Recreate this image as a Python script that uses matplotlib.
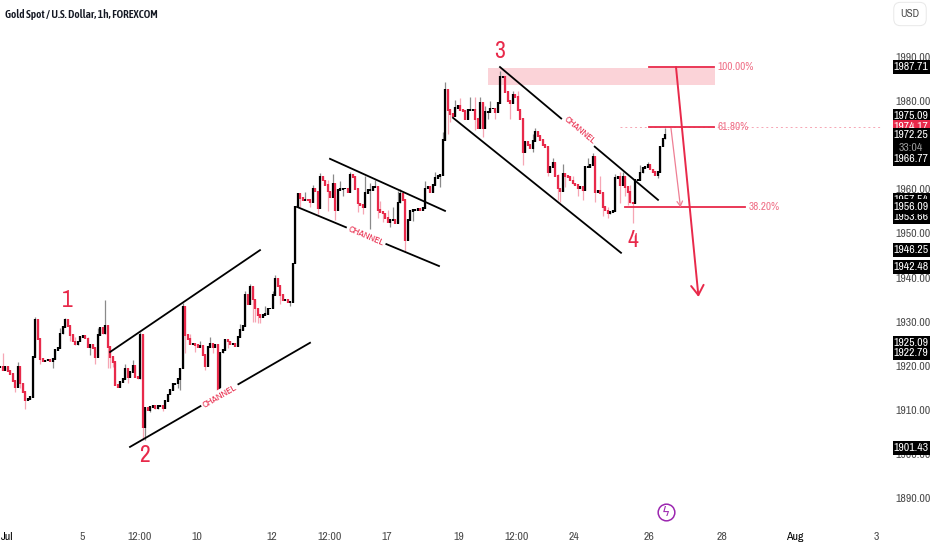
import matplotlib
matplotlib.use('Agg')
import matplotlib.pyplot as plt
import numpy as np

plt.rcParams['font.family'] = ['Archivo Narrow', 'Liberation Sans', 'DejaVu Sans']

RED = '#e8294a'
PINK = '#f6a6b4'

# hourly closes, one run per leg
closes_a = [1919.7, 1919.0, 1919.7, 1918.8, 1918.2, 1916.5, 1915.2, 1919.7, 1916.0, 1914.0,
            1912.2, 1912.5, 1912.9, 1922.0, 1930.3, 1926.0, 1921.6, 1921.0, 1921.2, 1921.3,
            1921.0, 1921.5, 1923.5, 1924.0, 1927.3, 1928.8, 1930.3, 1929.0, 1927.0, 1925.5,
            1924.8, 1925.5, 1926.5, 1926.8, 1926.2, 1924.3, 1924.8, 1924.0, 1922.0, 1927.0,
            1928.5, 1927.3, 1929.0, 1924.3, 1922.0, 1920.9, 1915.6, 1915.2, 1916.3, 1917.0,
            1919.4, 1917.5, 1918.5, 1920.0, 1917.5, 1917.1, 1927.0, 1906.1, 1910.5, 1910.0,
            1910.7, 1911.0, 1910.3, 1910.8, 1911.0, 1910.5, 1912.0, 1913.5, 1914.5, 1915.8,
            1916.0, 1917.0, 1919.4, 1933.4, 1927.0, 1926.0, 1925.0, 1925.0, 1924.7, 1924.3,
            1924.5, 1922.5, 1920.0, 1924.3, 1925.0, 1924.3, 1924.7, 1914.0, 1923.0, 1923.5,
            1925.8, 1925.5, 1925.0, 1925.0, 1924.5, 1926.5, 1928.1, 1929.0, 1936.0, 1934.0,
            1937.9, 1935.0, 1933.0, 1931.5, 1931.0, 1931.5, 1931.7, 1933.0, 1933.0, 1936.0,
            1939.8, 1938.0, 1936.0, 1934.9, 1935.0, 1934.5, 1934.5, 1943.2]
closes_b = [1956.0, 1959.0, 1958.0, 1957.5, 1957.7, 1957.5, 1957.2, 1960.2, 1959.5, 1955.7,
            1962.8, 1962.0, 1961.0, 1959.5, 1958.3, 1961.3, 1955.3, 1959.8, 1960.0, 1960.2,
            1960.2, 1959.4, 1963.2, 1962.8, 1960.0, 1956.8, 1956.4, 1956.0, 1959.2, 1959.8,
            1959.8, 1960.5, 1960.6, 1955.3, 1954.8, 1954.5, 1953.5, 1952.5, 1953.0, 1953.0,
            1952.3, 1957.0, 1959.0, 1957.5, 1948.5, 1953.0, 1955.0, 1955.3, 1955.3, 1955.5,
            1955.3, 1955.7, 1960.2, 1960.6, 1959.4, 1961.0, 1962.5, 1963.0, 1963.2, 1971.2,
            1982.5, 1978.0, 1977.0, 1976.5, 1978.5, 1979.0, 1978.0, 1977.8, 1976.0, 1978.0,
            1978.0, 1978.0, 1976.0, 1973.8, 1979.5, 1973.8, 1977.6, 1977.6, 1978.3, 1978.3,
            1977.6, 1979.5, 1985.5, 1985.5, 1982.0, 1980.0, 1979.5, 1981.4, 1981.0, 1978.0,
            1976.0, 1968.5, 1970.8, 1970.0, 1969.3, 1971.0, 1973.0, 1972.0, 1971.2, 1970.0,
            1969.6, 1964.0, 1965.0, 1965.9, 1963.0, 1960.2, 1959.5, 1963.6, 1963.0, 1962.8,
            1962.0, 1961.3, 1961.0, 1960.2, 1960.5, 1959.8, 1965.1, 1965.1, 1965.5, 1967.4,
            1959.4, 1959.6]
closes_c = [1959.1, 1956.0, 1955.2, 1954.5, 1954.8, 1955.0, 1962.5, 1962.7, 1961.0, 1962.9,
            1960.5, 1959.4, 1957.0, 1956.8, 1962.1, 1962.1, 1963.8, 1964.8, 1965.0, 1965.5,
            1964.5, 1964.0, 1963.2, 1964.0, 1969.7, 1971.5, 1972.3]

# bars with a wick worth drawing
high_bars = [1, 14, 26, 42, 73, 100, 110, 128, 133, 140, 146, 148, 160, 170, 178, 182, 192,
             194, 200, 205, 214, 225, 237, 246, 249, 256, 259, 266,
             7, 16, 24, 30, 35, 39, 50, 53, 56, 74, 76, 80, 84, 96, 98, 106, 109, 122, 125,
             131, 136, 143, 150, 152, 155, 157, 159, 174, 177, 184, 188, 190, 196, 203, 207,
             213, 221, 223, 229, 235, 240, 243, 248, 252]
high_vals = [1922.8, 1931.0, 1930.9, 1934.9, 1934.2, 1938.6, 1940.5, 1963.6, 1963.4, 1963.9,
             1962.9, 1961.5, 1960.0, 1961.8, 1984.4, 1980.2, 1980.9, 1978.9, 1986.7, 1982.2,
             1974.0, 1965.8, 1968.2, 1963.4, 1963.9, 1965.4, 1966.1, 1973.8,
             1920.8, 1923.0, 1928.5, 1926.6, 1926.5, 1928.5, 1920.3, 1921.2, 1927.6, 1929.0,
             1927.2, 1925.6, 1926.5, 1929.5, 1937.0, 1933.5, 1937.0, 1959.4, 1961.0, 1962.0,
             1961.8, 1958.0, 1962.0, 1957.4, 1955.4, 1956.0, 1959.5, 1964.0, 1973.0, 1980.6,
             1981.0, 1981.0, 1980.0, 1982.0, 1982.3, 1972.5, 1967.0, 1963.5, 1963.0, 1967.0,
             1963.0, 1956.0, 1964.0, 1961.0]
low_bars = [8, 10, 43, 45, 57, 58, 72, 87, 102, 104, 118, 127, 134, 143, 148, 153, 162, 165,
            180, 193, 209, 224, 238, 251, 253, 265,
            6, 16, 21, 28, 36, 38, 44, 51, 60, 65, 71, 74, 78, 82, 85, 91, 101, 103, 112, 116,
            120, 124, 131, 137, 145, 151, 156, 163, 176, 179, 190, 195, 198, 204, 213, 219,
            223, 226, 231, 233, 241, 243, 248, 250, 263]
low_vals = [1915.0, 1910.3, 1919.4, 1919.8, 1903.1, 1903.1, 1914.5, 1913.7, 1930.0, 1929.6,
            1952.4, 1954.4, 1953.0, 1954.9, 1951.1, 1952.6, 1945.8, 1952.9, 1975.2, 1971.9,
            1965.5, 1957.2, 1957.2, 1956.4, 1952.3, 1969.8,
            1914.0, 1920.5, 1919.5, 1925.5, 1922.5, 1920.3, 1919.5, 1916.0, 1909.5, 1909.8,
            1915.0, 1923.0, 1923.2, 1919.0, 1923.0, 1924.0, 1930.0, 1929.8, 1933.9, 1933.6,
            1956.0, 1956.0, 1955.0, 1958.5, 1954.5, 1953.5, 1951.5, 1949.0, 1960.5, 1972.5,
            1973.5, 1976.0, 1976.0, 1976.0, 1968.5, 1963.0, 1957.5, 1960.5, 1958.5, 1957.5,
            1954.0, 1953.6, 1957.0, 1958.5, 1962.5]

y_ticks = [1890, 1900, 1910, 1920, 1930, 1940, 1950, 1960, 1970, 1980, 1990]
x_tick_bars = [2.8, 32.8, 56, 78.8, 108.8, 132, 154.8, 183.6, 206.8, 229.6, 259.6, 288.8, 318, 350.4]
x_tick_labels = ['Jul', '5', '12:00', '10', '12', '12:00', '17', '19', '12:00', '24', '26', '28', 'Aug', '3']
bold_ticks = ['Jul', 'Aug']

# channels as (bar, price) end points
channels = [((52, 1901.6), (124, 1925.2)),
            ((44, 1923.1), (104, 1946.2)),
            ((132, 1966.9), (178, 1955.1)),
            ((118.8, 1956.0), (175.6, 1942.6)),
            ((200, 1987.7), (263.2, 1957.6)),
            ((181.2, 1976.2), (248.4, 1945.6))]
channel_labels = [(88, 1913.1, 30), (146.4, 1949.4, -23), (232, 1973.4, -40)]
wave_labels = [('1', 26.8, 1934.9), ('2', 57.6, 1899.7), ('3', 200, 1991.2), ('4', 253.2, 1948.5)]
fib_levels = [('100.00%', 1987.71, 259.6, 285.6, 287),
              ('61.80%', 1974.17, 259.6, 285.6, 287),
              ('38.20%', 1955.9, 250, 298, 299.6)]

# price scale boxes: label, height on the scale, background, text colour
scale_boxes = [('1987.71', 1987.71, 'black', 'white'),
               ('1975.09', 1976.6, 'black', 'white'),
               ('1974.17', 1974.17, RED, 'white'),
               ('1972.25', 1972.25, 'black', 'white'),
               ('33:04', 1969.3, 'black', '#999999'),
               ('1966.77', 1966.77, 'black', 'white'),
               ('1957.54', 1957.54, 'black', 'white'),
               ('1953.66', 1953.66, 'black', 'white'),
               ('1956.09', 1956.09, 'black', 'white'),
               ('1946.25', 1946.25, 'black', 'white'),
               ('1942.48', 1942.48, 'black', 'white'),
               ('1925.09', 1925.09, 'black', 'white'),
               ('1922.79', 1922.79, 'black', 'white'),
               ('1901.43', 1901.43, 'black', 'white')]

closes = np.array(closes_a + closes_b + closes_c)
bars = np.arange(len(closes))
opens = np.r_[closes[0], closes[:-1]]
highs = np.maximum(opens, closes)
lows = np.minimum(opens, closes)
up = closes >= opens
wick_hi = highs.copy()
wick_lo = lows.copy()
wick_hi[high_bars] = np.maximum(wick_hi[high_bars], high_vals)
wick_lo[low_bars] = np.minimum(wick_lo[low_bars], low_vals)

fig = plt.figure(figsize=(9.32, 5.5), dpi=100)
ax = fig.add_axes([0, 25 / 550, 883 / 932, 525 / 550])
ax.set_xlim(0, 353.2)
ax.set_ylim(1883.9, 2002.9)
for s in ax.spines.values():
    s.set_visible(False)

# supply zone and last price line go under the candles
ax.fill_between([195.2, 286], 1983.65, 1987.5, color='#fbd3d8', lw=0, zorder=1)
ax.plot([248, 357], [1974.17, 1974.17], color=PINK, lw=0.7, ls=(0, (2, 3)), zorder=1)

# candles
ax.vlines(bars[up], wick_lo[up], wick_hi[up], color='#8a8a8a', lw=0.9, zorder=2)
ax.vlines(bars[~up], wick_lo[~up], wick_hi[~up], color=PINK, lw=0.9, zorder=2)
ax.vlines(bars[up], lows[up] - 0.2, highs[up] + 0.2, color='black', lw=1.6, zorder=3)
ax.vlines(bars[~up], lows[~up] - 0.2, highs[~up] + 0.2, color=RED, lw=1.6, zorder=3)

for a, b in channels:
    ax.plot([a[0], b[0]], [a[1], b[1]], color='black', lw=1.3, zorder=4)
for x, y, rot in channel_labels:
    ax.text(x, y, 'CHANNEL', color=RED, fontsize=7, rotation=rot, rotation_mode='anchor',
            ha='center', va='center', zorder=5,
            bbox=dict(facecolor='white', edgecolor='none', pad=1.5))
for txt, x, y in wave_labels:
    ax.text(x, y, txt, color=RED, fontsize=17, weight='bold', ha='center', va='center', zorder=5)

for txt, price, x0, x1, xt in fib_levels:
    ax.plot([x0, x1], [price, price], color=RED, lw=1.3, zorder=4)
    ax.text(xt, price, txt, color='#ef6f86', fontsize=8, va='center', zorder=5)

ax.annotate('', xy=(279.4, 1935.6), xytext=(270.4, 1987.71), zorder=5,
            arrowprops=dict(arrowstyle='->,head_length=0.7,head_width=0.45', color=RED, lw=1.4,
                            shrinkA=0, shrinkB=0))
ax.annotate('', xy=(272.2, 1955.9), xytext=(268.4, 1973.8), zorder=5,
            arrowprops=dict(arrowstyle='->,head_length=0.35,head_width=0.2', color='#ee7f94', lw=0.9,
                            shrinkA=0, shrinkB=0))

# news flash icon
ax.plot([266.4], [1886.8], marker='o', ms=12, mfc='white', mec='#9c27b0', mew=1.1, zorder=5)
ax.text(266.4, 1886.8, 'ϟ', color='#9c27b0', fontsize=9, ha='center', va='center',
        family='DejaVu Sans', zorder=6)

# axes
ax.yaxis.tick_right()
ax.set_yticks(y_ticks)
ax.set_yticklabels(['%.2f' % v for v in y_ticks])
ax.tick_params(axis='y', length=0, pad=9, labelsize=8.5, labelcolor='#4a4a4a')
ax.set_xticks(x_tick_bars)
ax.set_xticklabels(x_tick_labels)
ax.tick_params(axis='x', length=0, pad=5, labelsize=8.5, labelcolor='#4a4a4a')
for lab in ax.get_xticklabels():
    if lab.get_text() in bold_ticks:
        lab.set_color('black')
        lab.set_fontweight('bold')

for txt, price, bg, fg in scale_boxes:
    ax.barh(price, 14.8, height=3.2, left=357.0, color=bg, lw=0, clip_on=False, zorder=7)
    ax.text(364.4, price, txt, color=fg, fontsize=8.5, ha='center', va='center',
            clip_on=False, zorder=7)

# header text and currency button
fig.text(5 / 932, 1 - 15 / 550, 'Gold Spot / U.S. Dollar, 1h, FOREXCOM', fontsize=8.1,
         color='#131722', family=['Asap Condensed', 'Liberation Sans', 'DejaVu Sans'], weight=600, va='center')
fig.text(910 / 932, 1 - 14 / 550, 'USD', fontsize=8, color='#4a4a4a', ha='center', va='center',
         bbox=dict(boxstyle='round,pad=0.6', facecolor='white', edgecolor='#e8e8e8', lw=0.7))

fig.savefig('out.png', dpi=100)
